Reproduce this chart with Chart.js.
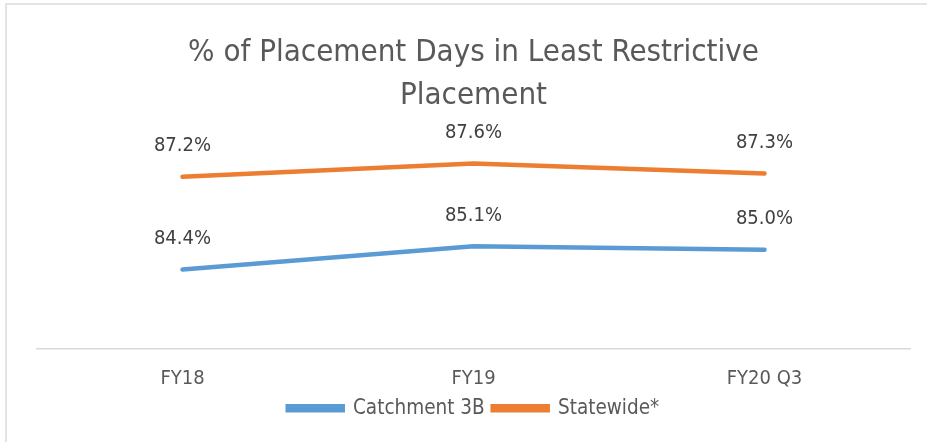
<!DOCTYPE html>
<html>
<head>
<meta charset="utf-8">
<script src="https://cdn.jsdelivr.net/npm/chart.js@4"></script>
<style>
html,body{margin:0;padding:0;background:#fff;overflow:hidden;}
#frame{position:absolute;left:5px;top:3px;width:922px;height:439px;border-top:2px solid #e4e4e4;border-left:2px solid #e4e4e4;box-sizing:border-box;}
#wrap{position:absolute;left:0;top:0;width:927px;height:442px;}
</style>
</head>
<body>
<div id="frame"></div>
<div id="wrap"><canvas id="c" width="927" height="442"></canvas></div>
<script>
const categories = ['FY18', 'FY19', 'FY20 Q3'];
const catchment3B = [84.4, 85.1, 85.0];
const statewide = [87.2, 87.6, 87.3];
const seriesNames = ['Catchment 3B', 'Statewide*'];
const titleLines = ['% of Placement Days in Least Restrictive', 'Placement'];

const FONT = "'Liberation Sans Narrow', 'DejaVu Sans Condensed', 'Open Sans', sans-serif";
const TXT = '#595959';

const labelPlugin = {
  id: 'pointLabels',
  afterDatasetsDraw(chart) {
    const ctx = chart.ctx;
    ctx.save();
    ctx.font = '20px ' + FONT;
    ctx.fillStyle = '#404040';
    ctx.textAlign = 'center';
    ctx.textBaseline = 'middle';
    chart.data.datasets.forEach((ds, i) => {
      const meta = chart.getDatasetMeta(i);
      meta.data.forEach((pt, j) => {
        ctx.fillText(ds.data[j].toFixed(1) + '%', pt.x, pt.y - 31);
      });
    });
    ctx.restore();
  }
};

new Chart(document.getElementById('c'), {
  type: 'line',
  data: {
    labels: categories,
    datasets: [
      { label: seriesNames[0], data: catchment3B, borderColor: '#5b9bd5', backgroundColor: '#5b9bd5', borderWidth: 4.5, pointRadius: 0, borderCapStyle: 'round', tension: 0 },
      { label: seriesNames[1], data: statewide, borderColor: '#ed7d31', backgroundColor: '#ed7d31', borderWidth: 4.5, pointRadius: 0, borderCapStyle: 'round', tension: 0 }
    ]
  },
  options: {
    responsive: false,
    animation: false,
    layout: { padding: { left: 37, right: 17, top: 0, bottom: 13.5 } },
    plugins: {
      title: {
        display: true,
        text: titleLines,
        color: TXT,
        font: { family: FONT, size: 31, weight: 'normal', lineHeight: 1.39 },
        padding: { top: 31.5, bottom: -0.5 }
      },
      legend: {
        position: 'bottom',
        labels: {
          color: TXT,
          font: { family: FONT, size: 20.5 },
          boxWidth: 55,
          boxHeight: 4,
          padding: 8
        }
      },
      tooltip: { enabled: false }
    },
    scales: {
      x: {
        offset: true,
        grid: { display: false, drawTicks: false },
        border: { display: true, color: '#d9d9d9', width: 1.5 },
        ticks: { color: TXT, font: { family: FONT, size: 20 }, padding: 18 },
        afterFit(scale) { scale.height = 41; }
      },
      y: {
        display: false,
        min: 82,
        max: 89
      }
    }
  },
  plugins: [labelPlugin]
});
</script>
</body>
</html>
